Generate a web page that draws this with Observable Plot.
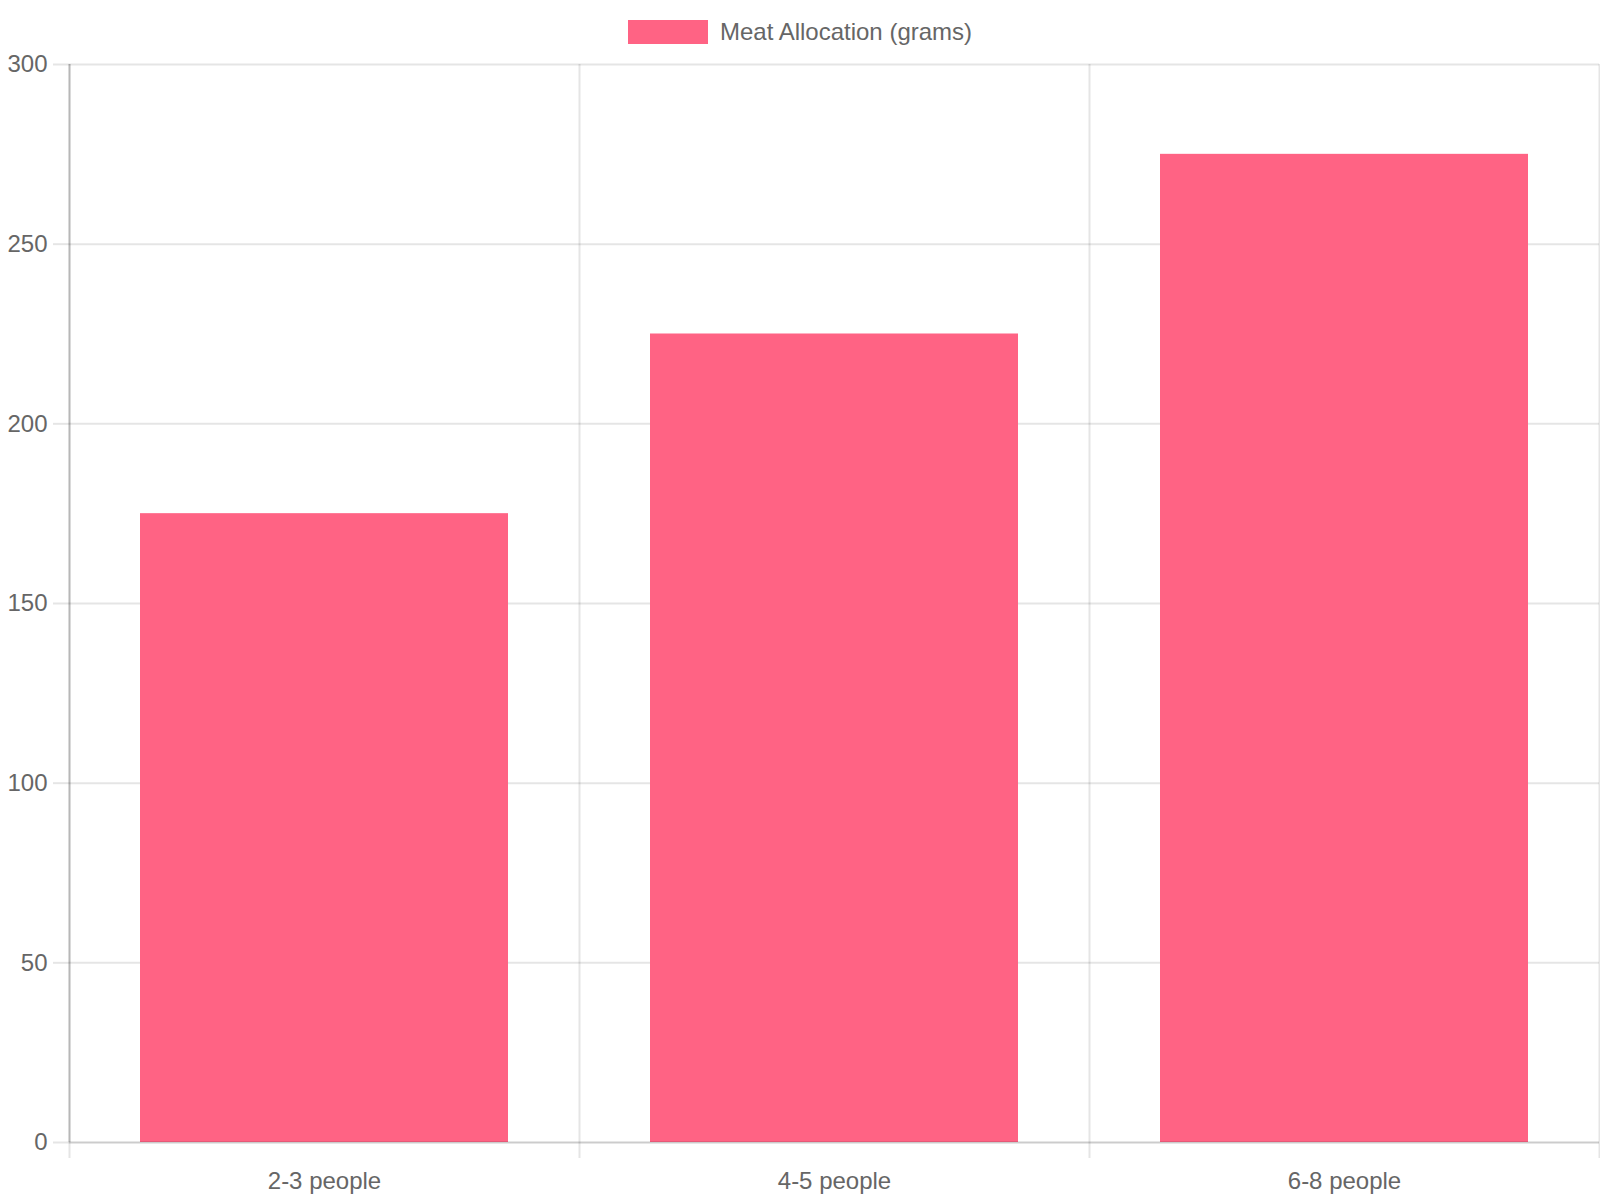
<!DOCTYPE html>
<html><head><meta charset="utf-8">
<script src="https://cdn.jsdelivr.net/npm/d3@7"></script>
<script src="https://cdn.jsdelivr.net/npm/@observablehq/plot@0.6"></script>
<style>
html,body{margin:0;padding:0;background:#fff;font-family:"Liberation Sans",Arial,sans-serif;color:#666;overflow:hidden;}
#legend{position:relative;z-index:1;width:1600px;height:36px;overflow:visible;box-sizing:border-box;padding-top:20px;display:flex;justify-content:center;align-items:flex-start;gap:12px;}
#legend .sw{width:80px;height:24px;background:#ff6384;flex:none;}
#legend .lb{font-size:24px;line-height:24px;height:24px;color:#666;white-space:nowrap;}
#chart svg{display:block;overflow:visible;}
</style></head>
<body>
<div id="legend"><span class="sw"></span><span class="lb" id="legendLabel"></span></div>
<div id="chart"></div>
<script>
const categories = ["2-3 people", "4-5 people", "6-8 people"];
const meatGrams = [175, 225, 275];
const yTicks = [0, 50, 100, 150, 200, 250, 300];
const seriesName = "Meat Allocation (grams)";

document.getElementById("legendLabel").textContent = seriesName;

const data = categories.map((c, i) => ({category: c, value: meatGrams[i]}));

const plotLeft = 69, plotRight = 1599;
const half = (plotRight - plotLeft) / categories.length / 2;
const grid = {stroke: "black", strokeOpacity: 0.1, strokeWidth: 2};
const border = {stroke: "black", strokeOpacity: 0.2, strokeWidth: 2};

const chart = Plot.plot({
  width: 1600,
  height: 1164,
  marginLeft: plotLeft,
  marginRight: 1600 - plotRight,
  marginTop: 28,
  marginBottom: 58,
  style: {fontFamily: '"Liberation Sans", Arial, sans-serif', fontSize: "24px", color: "#666", background: "none"},
  x: {domain: categories, padding: 0, label: null},
  y: {domain: [0, 300], label: null},
  marks: [
    Plot.ruleY(yTicks.slice(1), grid),
    Plot.ruleX(categories, {dx: -half, insetBottom: -16, ...grid}),
    Plot.ruleX(categories.slice(-1), {dx: half, insetBottom: -16, ...grid}),
    Plot.axisY({ticks: yTicks, tickSize: 16, tickPadding: 6, stroke: "black", strokeOpacity: 0.1, strokeWidth: 2, fill: "#666", fontSize: 24, label: null}),
    Plot.axisX({tickSize: 0, tickPadding: 29, fill: "#666", fontSize: 24, label: null}),
    Plot.barY(data, {x: "category", y: "value", fill: "#ff6384", insetLeft: 71, insetRight: 71}),
    Plot.ruleX(categories.slice(0, 1), {dx: -half, ...border}),
    Plot.ruleY([0], border)
  ]
});
document.getElementById("chart").appendChild(chart);
</script>
</body></html>
